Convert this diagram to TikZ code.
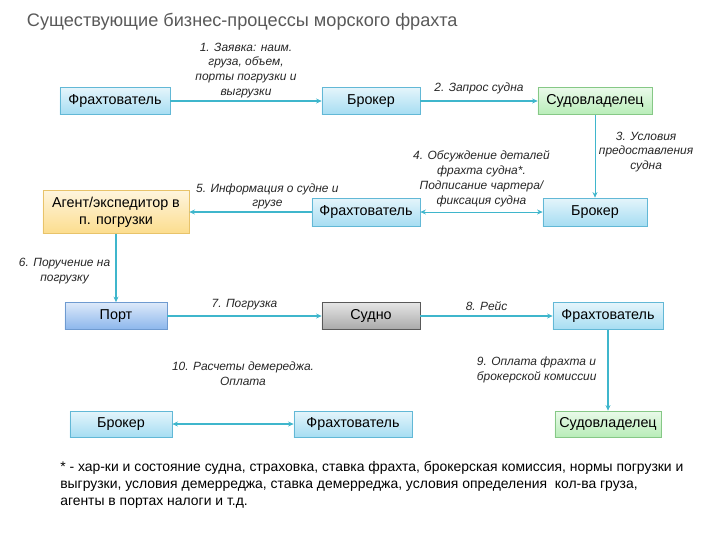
\documentclass[tikz,border=0pt]{standalone}
\usepackage{fontspec}
\setmainfont{Liberation Sans}
\usetikzlibrary{arrows.meta}
\definecolor{lineblue}{HTML}{3FB6CC}
\definecolor{boxedge}{HTML}{62B8D6}
\definecolor{cyanfill}{HTML}{A6DDF2}
\definecolor{greenfill}{HTML}{B8EDB8}
\definecolor{greenedge}{HTML}{86C886}
\definecolor{yellowfill}{HTML}{FCDD8E}
\definecolor{yellowedge}{HTML}{E8C36A}
\definecolor{portfill}{HTML}{8CB6EC}
\definecolor{portedge}{HTML}{6E9AD0}
\definecolor{shipfill}{HTML}{A9A9A9}
\begin{document}
\begin{tikzpicture}[x=0.025cm, y=-0.025cm,
    box/.style={draw=boxedge, top color=#1!30, bottom color=#1, minimum height=0.675cm, inner sep=1pt, font=\fontsize{10.2}{12}\selectfont, align=center},
    box/.default=cyanfill,
    lbl/.style={font=\fontsize{8.5}{10.5}\selectfont\itshape, align=center, text=black!85, inner sep=1.5pt},
    conn/.style={lineblue, line width=1.3pt, -{Stealth[length=4pt, width=3.5pt]}},
    thin/.style={line width=0.6pt}]
    \useasboundingbox (0,0) rectangle (720,540);
    \node[anchor=west, font=\fontsize{12.9}{14}\selectfont, text=black!65] (title) at (22,22) {Существующие бизнес-процессы морского фрахта};
    % row 1
    \node[box, minimum width=2.75cm] (fr1) at (115,101) {Фрахтователь};
    \node[box, minimum width=2.45cm] (br1) at (371,101) {Брокер};
    \node[box=greenfill, draw=greenedge, minimum width=2.85cm] (sv1) at (595,101) {Судовладелец};
    % row 2
    \node[box=yellowfill, draw=yellowedge, minimum width=3.65cm, minimum height=1.07cm] (ag) at (116,212) {Агент/экспедитор в\\п. погрузки};
    \node[box, minimum width=2.7cm, minimum height=0.7cm] (fr2) at (366,212) {Фрахтователь};
    \node[box, minimum width=2.6cm, minimum height=0.7cm] (br2) at (595,212) {Брокер};
    % row 3
    \node[box=portfill, draw=portedge, minimum width=2.55cm] (port) at (116,316) {Порт};
    \node[box=shipfill, draw=black!65, minimum width=2.45cm] (ship) at (371,316) {Судно};
    \node[box, minimum width=2.75cm] (fr3) at (608,316) {Фрахтователь};
    % row 4
    \node[box, minimum width=2.55cm, minimum height=0.65cm] (br4) at (121,424) {Брокер};
    \node[box, minimum width=2.95cm, minimum height=0.65cm] (fr4) at (353,424) {Фрахтователь};
    \node[box=greenfill, draw=greenedge, minimum width=2.65cm, minimum height=0.65cm] (sv4) at (608,424) {Судовладелец};
    % connectors
    \draw[conn] (fr1) -- node[lbl, above] {1. Заявка: наим.\\груза, объем,\\порты погрузки и\\выгрузки} (br1);
    \draw[conn] (br1) -- node[lbl, above, yshift=3pt] {2. Запрос судна} (sv1);
    \draw[conn, thin] (sv1) -- node[lbl, right, xshift=1pt, yshift=3pt] {3. Условия\\предоставления\\судна} (br2);
    \draw[conn, thin, {Stealth[length=4pt, width=3.5pt]}-{Stealth[length=4pt, width=3.5pt]}] (br2) -- node[lbl, above, yshift=2pt] {4. Обсуждение деталей\\фрахта судна*.\\Подписание чартера/\\фиксация судна} (fr2);
    \draw[conn, line width=0.9pt] (fr2) -- node[lbl, above, xshift=12pt] {5. Информация о судне и\\грузе} (ag);
    \draw[conn] (ag) -- node[lbl, left, xshift=-2pt, yshift=-2pt] {6. Поручение на\\погрузку} (port);
    \draw[conn] (port) -- node[lbl, above, yshift=2pt] {7. Погрузка} (ship);
    \draw[conn] (ship) -- node[lbl, above, yshift=2pt] {8. Рейс} (fr3);
    \draw[conn] (fr3) -- node[lbl, left, align=left, xshift=-6pt] {9. Оплата фрахта и\\брокерской комиссии} (sv4);
    \draw[conn, {Stealth[length=4pt, width=3.5pt]}-{Stealth[length=4pt, width=3.5pt]}] (br4) -- (fr4);
    \node[lbl] (calc) at (243,374) {10. Расчеты демереджа.\\Оплата};
    % footnote
    \node[anchor=north west, align=left, font=\fontsize{9.9}{12.2}\selectfont, inner sep=0pt] (note) at (60,461) {* - хар-ки и состояние судна, страховка, ставка фрахта, брокерская комиссия, нормы погрузки и\\выгрузки, условия демерреджа, ставка демерреджа, условия определения\ \ кол-ва груза,\\агенты в портах налоги и т.д.};
\end{tikzpicture}
\end{document}
